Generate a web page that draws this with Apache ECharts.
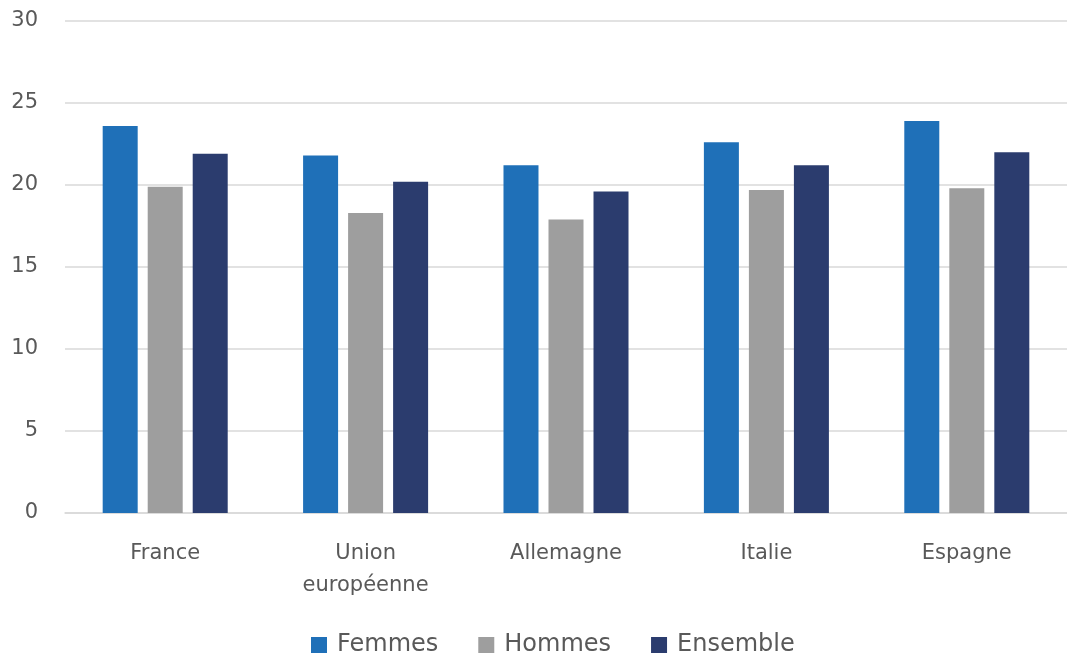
<!DOCTYPE html>
<html>
<head>
<meta charset="utf-8">
<script src="https://cdn.jsdelivr.net/npm/echarts@6/dist/echarts.min.js"></script>
<style>
  html, body { margin: 0; padding: 0; background: #ffffff; }
  #chart { width: 1067px; height: 656px; }
</style>
</head>
<body>
<div id="chart"></div>
<script>
// Pays / zones comparés
const categories = ['France', 'Union\neuropéenne', 'Allemagne', 'Italie', 'Espagne'];
// Valeurs par groupe
const femmes = [23.6, 21.8, 21.2, 22.6, 23.9];
const hommes = [19.9, 18.3, 17.9, 19.7, 19.8];
const ensemble = [21.9, 20.2, 19.6, 21.2, 22.0];
const yTicks = { min: 0, max: 30, interval: 5 };

const textColor = '#595959';
const fontFamily = '"DejaVu Sans", "Noto Sans", sans-serif';

const chart = echarts.init(document.getElementById('chart'), null, { renderer: 'canvas' });

function barSeries(name, data, color) {
  return {
    name: name,
    type: 'bar',
    data: data,
    barWidth: 35,
    barGap: '28.6%',
    itemStyle: { color: color },
    emphasis: { disabled: true }
  };
}

chart.setOption({
  animation: false,
  backgroundColor: '#ffffff',
  textStyle: { fontFamily: fontFamily, color: textColor },
  grid: { left: 65, right: -5, top: 21, bottom: 143, containLabel: false },
  legend: {
    top: 628,
    left: 306,
    itemWidth: 16,
    itemHeight: 16,
    itemGap: 40,
    icon: 'rect',
    textStyle: { fontSize: 24, color: textColor, fontFamily: fontFamily, padding: [0, 0, 0, 5] },
    data: ['Femmes', 'Hommes', 'Ensemble']
  },
  xAxis: {
    type: 'category',
    data: categories,
    axisLine: { lineStyle: { color: '#d9d9d9', width: 1.5 } },
    axisTick: { show: false },
    axisLabel: { fontSize: 21, color: textColor, margin: 25, lineHeight: 32, fontFamily: fontFamily }
  },
  yAxis: {
    type: 'value',
    min: yTicks.min,
    max: yTicks.max,
    interval: yTicks.interval,
    axisLine: { show: false },
    axisTick: { show: false },
    splitLine: { lineStyle: { color: '#d9d9d9', width: 1.5 } },
    axisLabel: { fontSize: 21, color: textColor, margin: 27, fontFamily: fontFamily }
  },
  series: [
    barSeries('Femmes', femmes, '#1f70b8'),
    barSeries('Hommes', hommes, '#9e9e9e'),
    barSeries('Ensemble', ensemble, '#2b3c6e')
  ]
});
</script>
</body>
</html>
